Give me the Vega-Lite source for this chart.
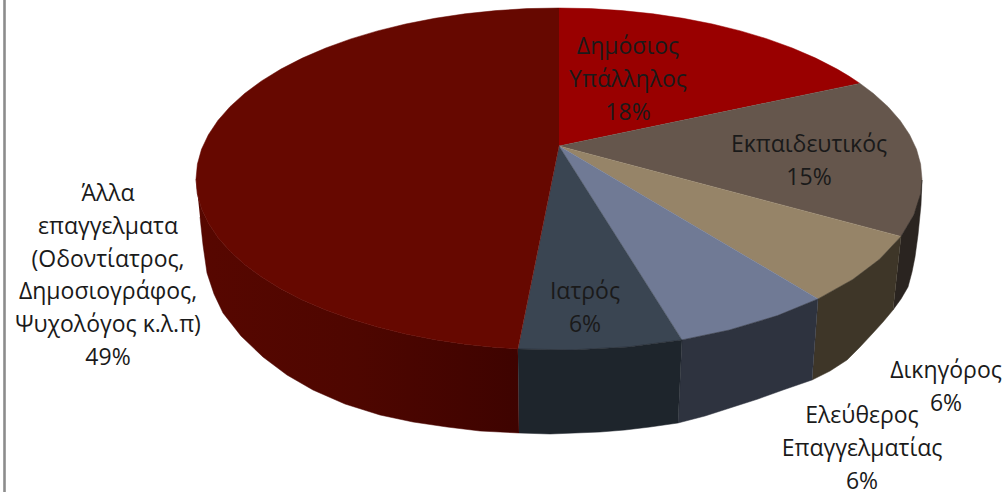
{"$schema":"https://vega.github.io/schema/vega-lite/v6.json","width":1004,"height":492,"padding":0,"autosize":"none","background":"white","view":{"stroke":null},
"datasets":{"shape":[
{"p":"a1","i":0,"x":559,"y":146},{"p":"a1","i":1,"x":559,"y":8},{"p":"a1","i":2,"x":590.6,"y":8.6},{"p":"a1","i":3,"x":622,"y":10.6},{"p":"a1","i":4,"x":653,"y":13.8},{"p":"a1","i":5,"x":683.1,"y":18.3},{"p":"a1","i":6,"x":712.4,"y":24},{"p":"a1","i":7,"x":740.5,"y":30.9},{"p":"a1","i":8,"x":767.2,"y":38.9},{"p":"a1","i":9,"x":792.3,"y":48},{"p":"a1","i":10,"x":815.7,"y":58.1},{"p":"a1","i":11,"x":837.1,"y":69.1},{"p":"a1","i":12,"x":848.9,"y":76.1},{"p":"a1","i":13,"x":860,"y":83.4},
{"p":"a2","i":0,"x":559,"y":146},{"p":"a2","i":1,"x":860,"y":83.4},{"p":"a2","i":2,"x":873.4,"y":93.5},{"p":"a2","i":3,"x":888,"y":106.7},{"p":"a2","i":4,"x":900.1,"y":120.5},{"p":"a2","i":5,"x":909.6,"y":134.7},{"p":"a2","i":6,"x":916.5,"y":149.3},{"p":"a2","i":7,"x":920.6,"y":164.1},{"p":"a2","i":8,"x":922,"y":179},{"p":"a2","i":9,"x":920.6,"y":193.9},{"p":"a2","i":10,"x":918.5,"y":202.8},{"p":"a2","i":11,"x":914,"y":214.6},{"p":"a2","i":12,"x":901,"y":236.4},
{"p":"a3","i":0,"x":559,"y":146},{"p":"a3","i":1,"x":901,"y":236.4},{"p":"a3","i":2,"x":879.5,"y":259.3},{"p":"a3","i":3,"x":852.7,"y":279.5},{"p":"a3","i":4,"x":818,"y":298.9},
{"p":"a4","i":0,"x":559,"y":146},{"p":"a4","i":1,"x":818,"y":298.9},{"p":"a4","i":2,"x":777.5,"y":315.6},{"p":"a4","i":3,"x":729.4,"y":330},{"p":"a4","i":4,"x":682,"y":339.9},
{"p":"a5","i":0,"x":559,"y":146},{"p":"a5","i":1,"x":682,"y":339.9},{"p":"a5","i":2,"x":628.3,"y":346.9},{"p":"a5","i":3,"x":571.7,"y":349.9},{"p":"a5","i":4,"x":517.9,"y":348.9},
{"p":"a6","i":0,"x":559,"y":146},{"p":"a6","i":1,"x":517.9,"y":348.9},{"p":"a6","i":2,"x":496,"y":347.4},{"p":"a6","i":3,"x":465,"y":344.2},{"p":"a6","i":4,"x":434.9,"y":339.7},{"p":"a6","i":5,"x":405.6,"y":334},{"p":"a6","i":6,"x":377.5,"y":327.1},{"p":"a6","i":7,"x":350.8,"y":319.1},{"p":"a6","i":8,"x":325.7,"y":310},{"p":"a6","i":9,"x":302.3,"y":299.9},{"p":"a6","i":10,"x":280.9,"y":288.9},{"p":"a6","i":11,"x":261.6,"y":277.1},{"p":"a6","i":12,"x":244.6,"y":264.5},{"p":"a6","i":13,"x":230,"y":251.3},{"p":"a6","i":14,"x":217.9,"y":237.5},{"p":"a6","i":15,"x":208.4,"y":223.3},{"p":"a6","i":16,"x":201.5,"y":208.7},{"p":"a6","i":17,"x":197.4,"y":193.9},{"p":"a6","i":18,"x":196,"y":179},{"p":"a6","i":19,"x":197.4,"y":164.1},{"p":"a6","i":20,"x":201.5,"y":149.3},{"p":"a6","i":21,"x":208.4,"y":134.7},{"p":"a6","i":22,"x":217.9,"y":120.5},{"p":"a6","i":23,"x":230,"y":106.7},{"p":"a6","i":24,"x":244.6,"y":93.5},{"p":"a6","i":25,"x":261.6,"y":80.9},{"p":"a6","i":26,"x":280.9,"y":69.1},{"p":"a6","i":27,"x":302.3,"y":58.1},{"p":"a6","i":28,"x":325.7,"y":48},{"p":"a6","i":29,"x":350.8,"y":38.9},{"p":"a6","i":30,"x":377.5,"y":30.9},{"p":"a6","i":31,"x":405.6,"y":24},{"p":"a6","i":32,"x":434.9,"y":18.3},{"p":"a6","i":33,"x":465,"y":13.8},{"p":"a6","i":34,"x":496,"y":10.6},{"p":"a6","i":35,"x":527,"y":8.6},{"p":"a6","i":36,"x":559,"y":8},
{"p":"w2","i":0,"x":901,"y":236.4},{"p":"w2","i":1,"x":914,"y":214.6},{"p":"w2","i":2,"x":920.6,"y":193.9},{"p":"w2","i":3,"x":922,"y":180},{"p":"w2","i":4,"x":921,"y":205},{"p":"w2","i":5,"x":918,"y":235},{"p":"w2","i":6,"x":915,"y":257},{"p":"w2","i":7,"x":912,"y":272},{"p":"w2","i":8,"x":908,"y":287},{"p":"w2","i":9,"x":901,"y":299},{"p":"w2","i":10,"x":893,"y":310},
{"p":"w3","i":0,"x":818,"y":298.9},{"p":"w3","i":1,"x":852.7,"y":279.5},{"p":"w3","i":2,"x":879.5,"y":259.3},{"p":"w3","i":3,"x":901,"y":236.4},{"p":"w3","i":4,"x":893,"y":310},{"p":"w3","i":5,"x":883,"y":322},{"p":"w3","i":6,"x":873,"y":333},{"p":"w3","i":7,"x":860,"y":347},{"p":"w3","i":8,"x":847,"y":360},{"p":"w3","i":9,"x":830,"y":371},{"p":"w3","i":10,"x":812,"y":380},
{"p":"w4","i":0,"x":682,"y":339.9},{"p":"w4","i":1,"x":729.4,"y":330},{"p":"w4","i":2,"x":777.5,"y":315.6},{"p":"w4","i":3,"x":818,"y":298.9},{"p":"w4","i":4,"x":812,"y":380},{"p":"w4","i":5,"x":783,"y":390},{"p":"w4","i":6,"x":758,"y":399},{"p":"w4","i":7,"x":733,"y":407},{"p":"w4","i":8,"x":705,"y":416},{"p":"w4","i":9,"x":678,"y":423},
{"p":"w5","i":0,"x":517.9,"y":348.9},{"p":"w5","i":1,"x":571.7,"y":349.9},{"p":"w5","i":2,"x":628.3,"y":346.9},{"p":"w5","i":3,"x":682,"y":339.9},{"p":"w5","i":4,"x":678,"y":423},{"p":"w5","i":5,"x":650,"y":427},{"p":"w5","i":6,"x":625,"y":430},{"p":"w5","i":7,"x":600,"y":432},{"p":"w5","i":8,"x":550,"y":434},{"p":"w5","i":9,"x":519,"y":433}
],
"wall":[
{"i":0,"x":196,"y":179},{"i":1,"x":197.4,"y":193.9},{"i":2,"x":201.5,"y":208.7},{"i":3,"x":208.4,"y":223.3},{"i":4,"x":217.9,"y":237.5},{"i":5,"x":230,"y":251.3},{"i":6,"x":244.6,"y":264.5},{"i":7,"x":261.6,"y":277.1},{"i":8,"x":280.9,"y":288.9},{"i":9,"x":302.3,"y":299.9},{"i":10,"x":325.7,"y":310},{"i":11,"x":350.8,"y":319.1},{"i":12,"x":377.5,"y":327.1},{"i":13,"x":405.6,"y":334},{"i":14,"x":434.9,"y":339.7},{"i":15,"x":465,"y":344.2},{"i":16,"x":496,"y":347.4},{"i":17,"x":517.9,"y":348.9},{"i":18,"x":519,"y":433},{"i":19,"x":480,"y":431},{"i":20,"x":447,"y":427},{"i":21,"x":413,"y":422},{"i":22,"x":380,"y":415},{"i":23,"x":345,"y":404},{"i":24,"x":313,"y":390},{"i":25,"x":287,"y":375},{"i":26,"x":263,"y":357},{"i":27,"x":241,"y":336},{"i":28,"x":223,"y":313},{"i":29,"x":214,"y":294},{"i":30,"x":207,"y":273},{"i":31,"x":203,"y":245},{"i":32,"x":200,"y":217}
],
"labels":[
{"t":"Δημόσιος\nΥπάλληλος\n18%","x":628,"y":47},
{"t":"Εκπαιδευτικός\n15%","x":809,"y":145},
{"t":"Άλλα\nεπαγγελματα\n(Οδοντίατρος,\nΔημοσιογράφος,\nΨυχολόγος κ.λ.π)\n49%","x":108,"y":194},
{"t":"Ιατρός\n6%","x":585,"y":292},
{"t":"Δικηγόρος\n6%","x":946,"y":371},
{"t":"Ελεύθερος\nΕπαγγελματίας\n6%","x":862,"y":416}
],
"border":[{"x":4.5}]},
"layer":[
{"data":{"name":"wall"},"mark":{"type":"line","strokeWidth":0.5,"stroke":"#4a0500","fill":{"gradient":"linear","x1":0,"y1":0,"x2":1,"y2":0,"stops":[{"offset":0,"color":"#570700"},{"offset":0.5,"color":"#4e0600"},{"offset":1,"color":"#3e0300"}]}},
"encoding":{"x":{"field":"x","type":"quantitative","scale":{"domain":[0,1004],"nice":false,"zero":false},"axis":null},"y":{"field":"y","type":"quantitative","scale":{"domain":[0,492],"nice":false,"zero":false,"reverse":true},"axis":null},"order":{"field":"i"}}},
{"data":{"name":"shape"},"mark":{"type":"line","strokeWidth":0.5},
"encoding":{"x":{"field":"x","type":"quantitative","scale":{"domain":[0,1004],"nice":false,"zero":false},"axis":null},"y":{"field":"y","type":"quantitative","scale":{"domain":[0,492],"nice":false,"zero":false,"reverse":true},"axis":null},"order":{"field":"i"},
"fill":{"field":"p","type":"nominal","legend":null,"scale":{"domain":["a1","a2","a3","a4","a5","a6","w2","w3","w4","w5"],"range":["#990000","#65564c","#968468","#707a95","#3a4552","#660800","#2a2420","#3e3628","#2e333f","#1e252c"]}},
"stroke":{"field":"p","type":"nominal","legend":null,"scale":{"domain":["a1","a2","a3","a4","a5","a6","w2","w3","w4","w5"],"range":["#990000","#65564c","#968468","#707a95","#3a4552","#660800","#2a2420","#3e3628","#2e333f","#1e252c"]}}}},
{"data":{"name":"border"},"mark":{"type":"rule","color":"#8c8c8c","strokeWidth":2.6},"encoding":{"x":{"field":"x","type":"quantitative","scale":{"domain":[0,1004],"nice":false,"zero":false},"axis":null}}},
{"data":{"name":"labels"},"mark":{"type":"text","font":"Open Sans","fontSize":23,"color":"#1a1a1a","align":"center","baseline":"middle","lineBreak":"\n","lineHeight":32.8},
"encoding":{"x":{"field":"x","type":"quantitative","scale":{"domain":[0,1004],"nice":false,"zero":false},"axis":null},"y":{"field":"y","type":"quantitative","scale":{"domain":[0,492],"nice":false,"zero":false,"reverse":true},"axis":null},"text":{"field":"t"}}}
]}
